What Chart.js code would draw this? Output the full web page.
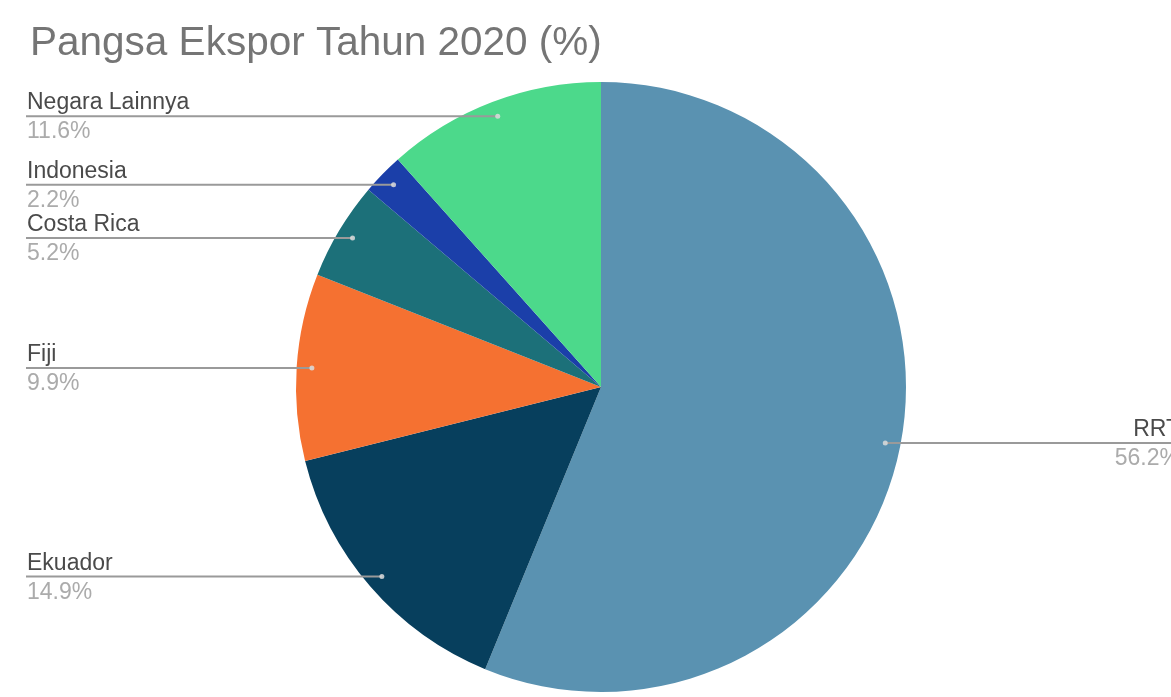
<!DOCTYPE html>
<html>
<head>
<meta charset="utf-8">
<script src="https://cdn.jsdelivr.net/npm/chart.js@4"></script>
<style>
  html, body { margin: 0; padding: 0; background: #fff; }
  #wrap { width: 1171px; height: 697px; position: relative; }
</style>
</head>
<body>
<div id="wrap"><canvas id="pie"></canvas></div>
<script>
/* ── Data ─────────────────────────────────────────────────── */
const countries = ['RRT', 'Ekuador', 'Fiji', 'Costa Rica', 'Indonesia', 'Negara Lainnya'];
const shares    = [56.2, 14.9, 9.9, 5.2, 2.2, 11.6];
const colors    = ['#5a92b1', '#073f5d', '#f57131', '#1c7079', '#1b3fa9', '#4cd98b'];

const FONT = "'Liberation Sans', Arial, sans-serif";

/* ── Title + leader labels ────────────────────────────────── */
const labelPlugin = {
  id: 'leaderLabels',
  afterDraw(chart) {
    const ctx = chart.ctx;
    const meta = chart.getDatasetMeta(0);
    ctx.save();

    // title
    ctx.font = '40.5px ' + FONT;
    ctx.fillStyle = '#757575';
    ctx.textAlign = 'left';
    ctx.textBaseline = 'alphabetic';
    ctx.fillText('Pangsa Ekspor Tahun 2020 (%)', 30, 55);

    meta.data.forEach((arc, i) => {
      const p = arc.getProps(['x', 'y', 'startAngle', 'endAngle', 'outerRadius'], true);
      const mid = (p.startAngle + p.endAngle) / 2;
      const dx = p.x + Math.cos(mid) * p.outerRadius * 0.95;
      const dy = p.y + Math.sin(mid) * p.outerRadius * 0.95;
      const left = dx < p.x;

      // leader line
      ctx.strokeStyle = '#9a9a9a';
      ctx.lineWidth = 2;
      ctx.beginPath();
      if (left) { ctx.moveTo(26, dy); ctx.lineTo(dx, dy); }
      else      { ctx.moveTo(dx, dy); ctx.lineTo(chart.width, dy); }
      ctx.stroke();

      // dot
      ctx.fillStyle = 'rgba(220,220,220,0.85)';
      ctx.beginPath();
      ctx.arc(dx, dy, 2.5, 0, Math.PI * 2);
      ctx.fill();

      // texts
      const tx = left ? 27 : 1180;
      ctx.textAlign = left ? 'left' : 'right';
      ctx.font = '23px ' + FONT;
      ctx.fillStyle = '#4a4a4a';
      ctx.fillText(countries[i], tx, dy - 7);
      ctx.fillStyle = '#ababab';
      ctx.fillText(shares[i].toFixed(1) + '%', tx, dy + 22);
    });
    ctx.restore();
  }
};

/* ── Chart ────────────────────────────────────────────────── */
new Chart(document.getElementById('pie'), {
  type: 'pie',
  data: {
    labels: countries,
    datasets: [{
      data: shares,
      backgroundColor: colors,
      borderWidth: 0
    }]
  },
  options: {
    responsive: true,
    maintainAspectRatio: false,
    animation: false,
    layout: { padding: { top: 82, bottom: 5, left: 296, right: 265 } },
    plugins: {
      legend: { display: false },
      tooltip: { enabled: false },
      title: { display: false }
    }
  },
  plugins: [labelPlugin]
});
</script>
</body>
</html>
